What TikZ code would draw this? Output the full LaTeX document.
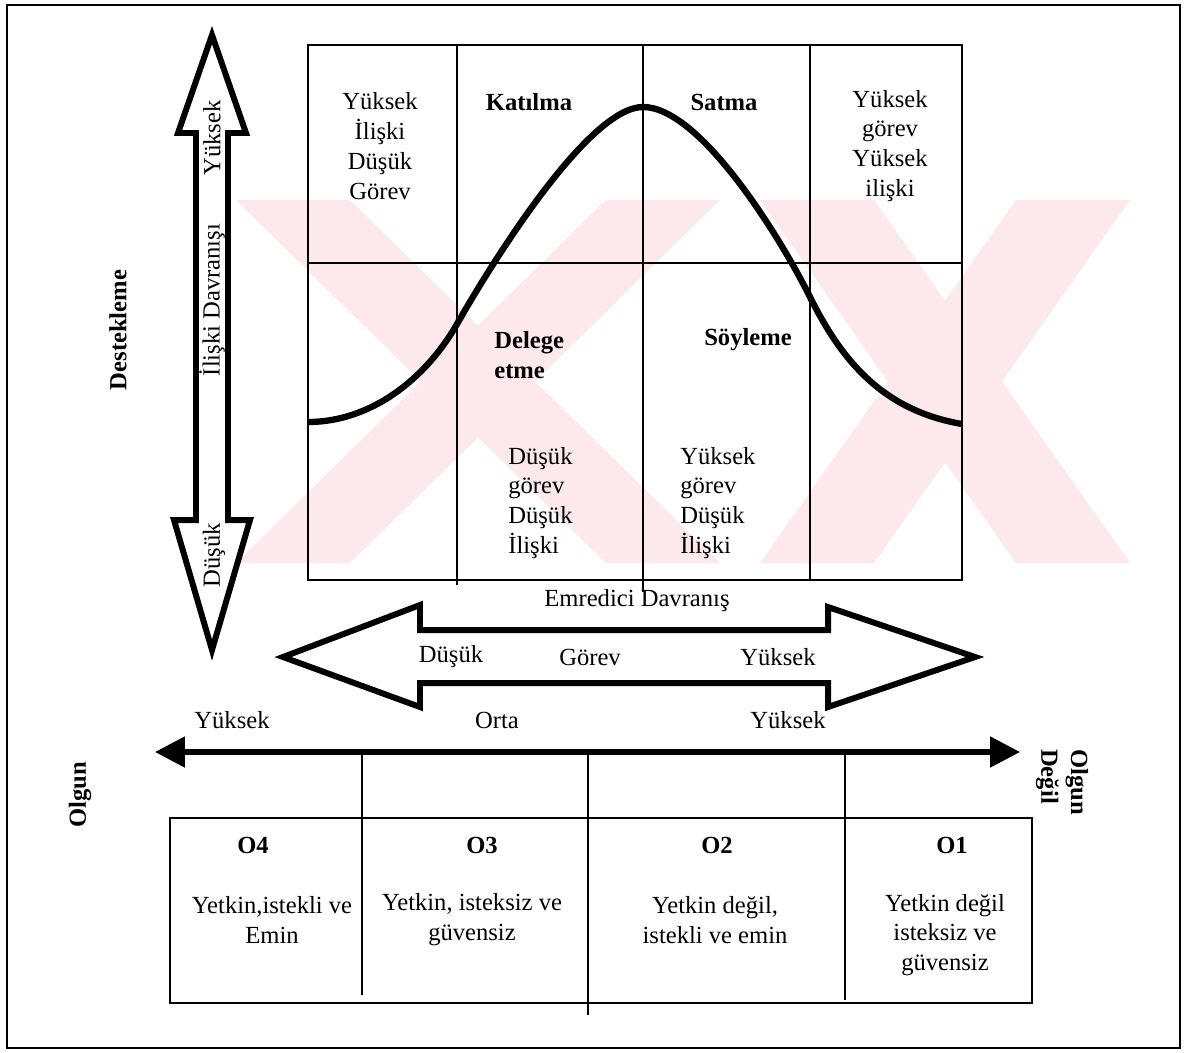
\documentclass[tikz,border=0pt]{standalone}
\usepackage{fontspec}
\setmainfont{Liberation Serif}
\usetikzlibrary{arrows.meta}
\definecolor{wmpink}{RGB}{253,233,236}

\begin{document}
\begin{tikzpicture}
      [x=0.02cm,y=-0.02cm,
       every node/.style={font=\fontsize{14}{17}\selectfont,inner sep=0pt},
       lbl/.style={font=\fontsize{14}{17}\selectfont\bfseries},
       grid/.style={line width=1pt},
       fatarrow/.style={line width=3.4pt,line join=miter,fill=white}]
      \useasboundingbox (0,0) rectangle (1185,1052);

      % watermark
      \fill[wmpink] (236,200) -- (350,200) -- (720,563) -- (606,563) -- cycle;
      \fill[wmpink] (606,200) -- (720,200) -- (350,563) -- (236,563) -- cycle;
      \fill[wmpink] (760,200) -- (874,200) -- (1130,563) -- (1016,563) -- cycle;
      \fill[wmpink] (1016,200) -- (1130,200) -- (874,563) -- (760,563) -- cycle;

      \draw[line width=1.2pt] (7,5) rectangle (1180,1048);

      % grid
      \draw[grid] (308,45) rectangle (962,580);
      \draw[grid] (308,263) -- (962,263);
      \foreach \x/\yb in {457/585, 643/592, 810/580}
      \draw[grid] (\x,45) -- (\x,\yb);

      \draw[line width=3.6pt] (308,422) .. controls (370,422) and (425,380) .. (457,324)
        .. controls (497,254) and (590,107) .. (643,107)
        .. controls (700,107) and (780,237) .. (810,297)
        .. controls (840,357) and (880,410) .. (962,424);

      \node (hihl) [align=center] at (380,146) {Yüksek\\İlişki\\Düşük\\Görev};
      \node[lbl] (katilma) at (529,102) {Katılma};
      \node[lbl] (satma) at (724,102) {Satma};
      \node (hthr) [align=center] at (890,146) {Yüksek\\görev\\Yüksek\\ilişki};
      \node[lbl,align=left,anchor=west] (delege) at (494,355) {Delege\\etme};
      \node[lbl] (soyleme) at (748,340) {Söyleme};
      \node (ltlr) [align=left,anchor=west] at (508,503) {Düşük\\görev\\Düşük\\İlişki};
      \node (htlr) [align=left,anchor=west] at (680,503) {Yüksek\\görev\\Düşük\\İlişki};

      % arrows
      \draw[fatarrow] (212,35) -- (246,133) -- (228,133) -- (228,520) -- (250,520)
        -- (212,650) -- (174,520) -- (196,520) -- (196,133) -- (178,133) -- cycle;
      \draw[fatarrow] (283,657) -- (420,605) -- (420,630) -- (828,630) -- (828,607)
        -- (975,657) -- (828,707) -- (828,683) -- (420,683) -- (420,707) -- cycle;

      \node[lbl,rotate=90] (destek) at (118,330) {Destekleme};
      \node[rotate=90] (ryuksek) at (212,138) {Yüksek};
      \node[rotate=90] (iliski) at (212,300) {İlişki Davranışı};
      \node[rotate=90] (rdusuk) at (214,555) {Düşük};

      \node (emredici) at (637,601) {Emredici Davranış};
      \node (gdusuk) at (451,657) {Düşük};
      \node (gorev) at (590,657) {Görev};
      \node (gyuksek) at (778,657) {Yüksek};
      \node (oyuksek) at (232,720) {Yüksek};
      \node (orta) at (497,720) {Orta};
      \node (dyuksek) at (788,720) {Yüksek};

      \coordinate (ol) at (155,752);
      \coordinate (or) at (1020,752);
      \draw[line width=3pt,{Triangle[length=17pt,width=17pt]}-{Triangle[length=17pt,width=17pt]}] (ol) -- (or);
      \foreach \x/\yb in {362/995, 588/1015, 845/1000}
      \draw[grid] (\x,752) -- (\x,\yb);

      \node[lbl,rotate=90] (olgun) at (80,795) {Olgun};
      \node[lbl,rotate=-90,align=left] (olgundegil) at (1062,782) {Olgun\\Değil};

      % table
      \draw[line width=1.4pt] (170,818) rectangle (1032,1003);
      \node[lbl] (o4) at (253,845) {O4};
      \node[lbl] (o3) at (482,845) {O3};
      \node[lbl] (o2) at (717,845) {O2};
      \node[lbl] (o1) at (952,845) {O1};
      \node (c4) [align=center] at (272,920) {Yetkin,istekli ve\\Emin};
      \node (c3) [align=center] at (472,920) {Yetkin, isteksiz ve\\güvensiz};
      \node (c2) [align=center] at (715,920) {Yetkin değil,\\istekli ve emin};
      \node (c1) [align=center] at (945,935) {Yetkin değil\\isteksiz ve\\güvensiz};
    \end{tikzpicture}
\end{document}
